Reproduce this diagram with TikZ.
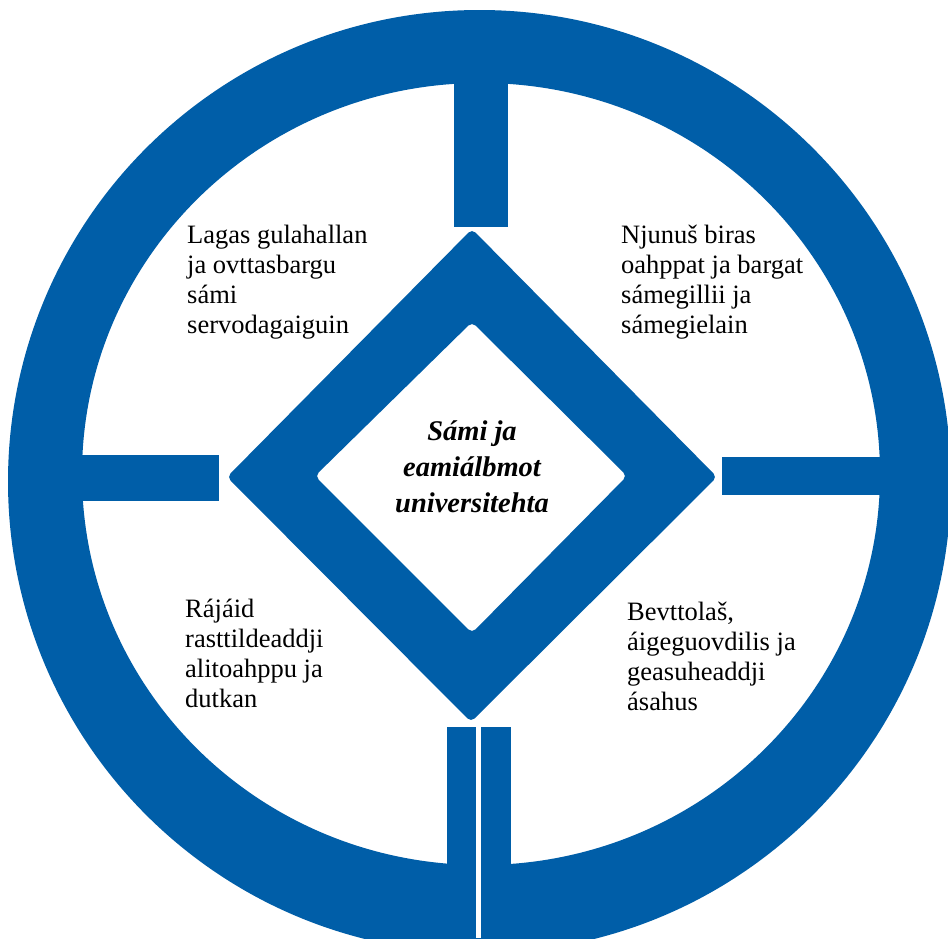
\documentclass[tikz,border=0pt]{standalone}
\usepackage{fontspec}
\setmainfont{Liberation Serif}
\definecolor{ringblue}{RGB}{0,94,168}
\tikzset{
  shape fill/.style={fill=ringblue},
  cornertext/.style={anchor=north west, inner sep=0pt, align=left, font=\fontsize{26.5}{30}\selectfont},
  centertext/.style={anchor=north, inner sep=0pt, align=center, font=\fontsize{28.5}{36}\selectfont\bfseries\itshape}
}
\begin{document}
\begin{tikzpicture}[x=1pt,y=-1pt]
\clip (0,0) rectangle (948,938);
\fill[white] (0,0) rectangle (948,938);
% ring
\fill[shape fill, even odd rule] (479.5,481.5) circle[radius=471.5pt] (481,474) ellipse[x radius=399pt, y radius=391pt];
% spokes
\fill[shape fill] (454,40) rectangle (508,227);
\fill[shape fill] (30,455) rectangle (219,501);
\fill[shape fill] (722,457) rectangle (920,495);
\fill[shape fill] (447,727) rectangle (511,938);
\fill[white] (476,727) rectangle (480.5,938);
% diamond frame
\fill[shape fill, even odd rule, rounded corners=5pt]
  (472,229) -- (717,477) -- (471,722) -- (227,477) -- cycle
  (472,322) -- (627,476) -- (472,633) -- (315,476) -- cycle;
% texts
\node[centertext] (center) at (472,418) {\rule{0pt}{22pt}Sámi ja\\eamiálbmot\\universitehta};
\node[cornertext] (tl) at (187,223) {\rule{0pt}{20pt}Lagas gulahallan\\ja ovttasbargu\\sámi\\servodagaiguin};
\node[cornertext] (tr) at (621,223) {\rule{0pt}{20pt}Njunuš biras\\oahppat ja bargat\\sámegillii ja\\sámegielain};
\node[cornertext] (bl) at (185,597) {\rule{0pt}{20pt}Rájáid\\rasttildeaddji\\alitoahppu ja\\dutkan};
\node[cornertext] (br) at (627,600) {\rule{0pt}{20pt}Bevttolaš,\\áigeguovdilis ja\\geasuheaddji\\ásahus};
\end{tikzpicture}
\end{document}
